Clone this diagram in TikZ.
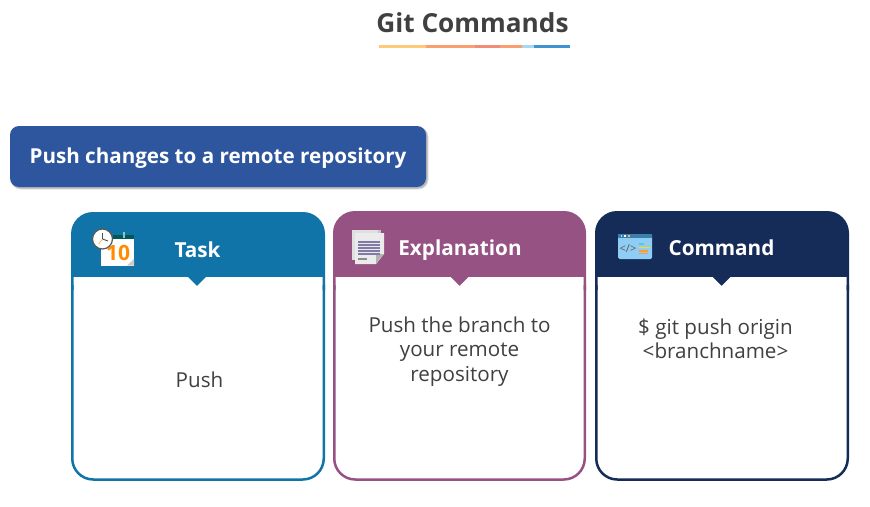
\documentclass[tikz,border=0pt]{standalone}
\usepackage{fontspec}
\setmainfont{Open Sans}
\definecolor{tealc}{HTML}{1174A8}
\definecolor{plumc}{HTML}{955282}
\definecolor{navyc}{HTML}{152B58}
\definecolor{bluec}{HTML}{2D569E}
\definecolor{inkc}{HTML}{404040}
\definecolor{ulA}{HTML}{FFC97A}
\definecolor{ulB}{HTML}{F8A070}
\definecolor{ulC}{HTML}{F08C78}
\definecolor{ulD}{HTML}{A8D8F0}
\definecolor{ulE}{HTML}{3F94D0}
\definecolor{winc}{HTML}{90CDF4}
\definecolor{winbar}{HTML}{3C7FA8}
\tikzset{
  headtxt/.style={text=white,font=\bfseries\fontsize{20.7}{24}\selectfont,anchor=center,inner sep=0pt},
  bodytxt/.style={text=inkc,font=\fontsize{20.6}{24.4}\selectfont,align=center,anchor=center,inner sep=0pt},
}
\newcommand{\cardbox}[5]{% x0 x1 ytop color tipx
  \fill[#4] (#1,290) {[rounded corners=22pt] -- (#1,#3) -- (#2,#3)} -- (#2,290) -- cycle;
  \fill[white] (#1+2.5,277) -- (#5-9,277) -- (#5,286) -- (#5+9,277) -- (#2-2.5,277) -- (#2-2.5,300) -- (#1+2.5,300) -- cycle;
  \draw[#4,line width=2.5pt] (#1+1.25,285) {[rounded corners=21pt] -- (#1+1.25,479.5) -- (#2-1.25,479.5)} -- (#2-1.25,285);
}
\begin{document}
\begin{tikzpicture}[x=1pt,y=-1pt]
\useasboundingbox (0,0) rectangle (870,506);
\fill[white] (0,0) rectangle (870,506);
% title
\node[text=inkc,font=\bfseries\fontsize{26.2}{30}\selectfont,anchor=center,inner sep=0pt] (title) at (472.5,23) {Git Commands};
\fill[ulA] (379,44.5) rectangle (426,47.5);
\fill[ulB] (426,44.5) rectangle (475,47.5);
\fill[ulC] (475,44.5) rectangle (500,47.5);
\fill[ulB] (500,44.5) rectangle (522,47.5);
\fill[ulD] (522,44.5) rectangle (534,47.5);
\fill[ulE] (534,44.5) rectangle (570,47.5);
% banner
\fill[black!12,rounded corners=10pt] (11,127) rectangle (428.5,189.5);
\fill[black!28,rounded corners=9pt] (11,127) rectangle (427.5,188.5);
\fill[bluec,rounded corners=9pt] (10,126) rectangle (426,187);
\node[text=white,font=\bfseries\fontsize{20.6}{24}\selectfont,anchor=center,inner sep=0pt] (banner) at (218,158) {Push changes to a remote repository};
% cards
\cardbox{71}{325}{212}{tealc}{197}
\cardbox{333}{586}{211}{plumc}{459.5}
\cardbox{595}{849}{211}{navyc}{721.5}
\node[headtxt] (t1) at (197.5,249.5) {Task};
\node[headtxt] (t2) at (460,250) {Explanation};
\node[headtxt] (t3) at (721.5,248) {Command};
\node[bodytxt] (b1) at (199.5,380) {Push};
\node[bodytxt] (b2) at (459.5,351.5) {Push the branch to\\your remote\\repository};
\node[bodytxt] (b3) at (715.5,338.5) {\$ git push origin\\<branchname>};
% calendar icon
\fill[white] (101,239) rectangle (134,265.5);
\fill[black!20] (134,265.5) -- (134,259) -- (127,265.5) -- cycle;
\fill[teal!70!black] (113,235) rectangle (134,239);
\fill[teal!45] (122.5,232) rectangle (125,238);
\node[text=orange!90!yellow,font=\bfseries\fontsize{21}{24}\selectfont,anchor=center,inner sep=0pt] (cal) at (118,253) {10};
\fill[white,draw=black!65,line width=1.2pt] (102.5,239) circle (10);
\draw[black!70,line width=.9pt] (102.5,239) -- (102.5,232.5);
\draw[black!70,line width=.9pt] (102.5,239) -- (108,241);
\draw[orange!60,line width=.7pt] (102.5,239) -- (98.5,244);
% document icon
\fill[black!22] (352,230) rectangle (381,258);
\fill[black!12] (352,230) rectangle (378,260);
\fill[white!92!black] (355,233) -- (384,233) -- (384,254) -- (376,264) -- (355,264) -- cycle;
\fill[black!30] (384,254) -- (376,254) -- (376,264) -- cycle;
\foreach \yy in {241,244,247,250,253} \fill[plumc!35!blue!45!black!55] (358,\yy) rectangle (380,\yy+1.8);
\fill[black!45] (358,258) rectangle (367,259.5);
% code window icon
\fill[winc,rounded corners=1.5pt] (618,234) rectangle (652,259);
\fill[winbar] (618,234) rectangle (652,238);
\foreach \xx/\cc in {620.5/cyan!40,624/white,628/orange!60} \fill[\cc] (\xx,235.1) rectangle (\xx+1.8,236.9);
\node[text=black!65,font=\fontsize{11}{12}\selectfont,anchor=center,inner sep=0pt] (code) at (628,248.5) {</>};
\fill[cyan!70] (639,243) rectangle (644,244.5);
\fill[yellow!80!orange] (639,246.5) rectangle (650,248);
\fill[orange!80] (639,250) rectangle (648,251.5);
\fill[orange!80] (639,252.5) rectangle (648,254);
\end{tikzpicture}
\end{document}
